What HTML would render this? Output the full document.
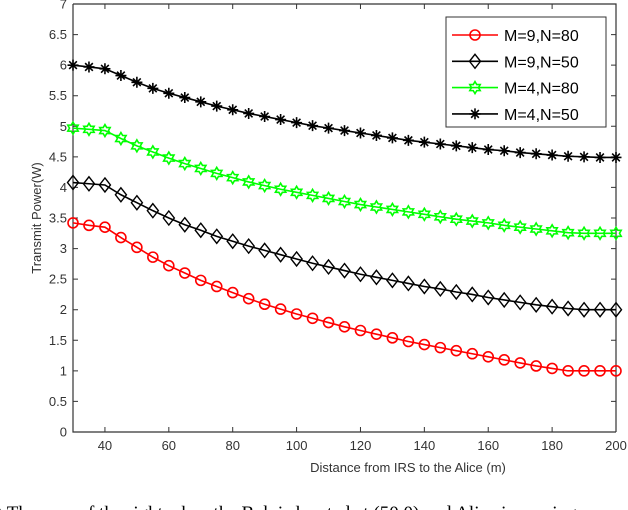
<!DOCTYPE html>
<html><head><meta charset="utf-8"><style>
body{margin:0;background:#fff;width:628px;height:510px;overflow:hidden}
svg{display:block;font-family:"Liberation Sans",sans-serif}
</style></head><body>
<svg id="chart" width="628" height="510" viewBox="0 0 628 510" xmlns="http://www.w3.org/2000/svg">
<rect x="73" y="4" width="543" height="428" fill="#fff" stroke="none"/>
<g id="grid"></g>
<g id="series"></g>
<g id="legend"></g>
<text x="408" y="472" font-size="13" fill="#333" text-anchor="middle">Distance from IRS to the Alice (m)</text>
<text transform="translate(41,218) rotate(-90)" font-size="13" fill="#333" text-anchor="middle">Transmit Power(W)</text>
<text x="-4" y="519" font-size="19" font-family="Liberation Serif,serif" fill="#000">) The case of the right when the Bob is located at (50,0) and Alice is moving</text>
</svg>
<script>
const xValues=[30,35,40,45,50,55,60,65,70,75,80,85,90,95,100,105,110,115,120,125,130,135,140,145,150,155,160,165,170,175,180,185,190,195,200];
const seriesM9N80=[3.42,3.38,3.35,3.18,3.02,2.86,2.72,2.6,2.48,2.38,2.28,2.18,2.09,2.01,1.93,1.86,1.79,1.72,1.66,1.6,1.54,1.48,1.43,1.38,1.33,1.28,1.23,1.18,1.13,1.08,1.04,1.0,1.0,1.0,1.0];
const seriesM9N50=[4.08,4.06,4.04,3.88,3.75,3.62,3.5,3.39,3.3,3.2,3.12,3.04,2.97,2.9,2.83,2.76,2.7,2.64,2.58,2.53,2.48,2.43,2.38,2.34,2.29,2.25,2.2,2.16,2.12,2.08,2.05,2.02,2.0,2.0,2.0];
const seriesM4N80=[4.97,4.95,4.93,4.8,4.68,4.58,4.48,4.39,4.31,4.23,4.16,4.09,4.03,3.97,3.92,3.87,3.82,3.77,3.72,3.68,3.64,3.6,3.56,3.52,3.48,3.45,3.42,3.38,3.35,3.32,3.29,3.26,3.25,3.25,3.25];
const seriesM4N50=[6.0,5.97,5.94,5.83,5.72,5.62,5.54,5.47,5.4,5.33,5.27,5.21,5.16,5.11,5.06,5.01,4.97,4.93,4.89,4.85,4.81,4.77,4.74,4.71,4.68,4.65,4.62,4.6,4.57,4.55,4.53,4.51,4.5,4.49,4.49];
const seriesNames=["M=9,N=80","M=9,N=50","M=4,N=80","M=4,N=50"];
const xTicks=[40,60,80,100,120,140,160,180,200];
const yTicks=[0,0.5,1,1.5,2,2.5,3,3.5,4,4.5,5,5.5,6,6.5,7];
const X0=73,X1=616,Y0=432,Y1=4;
const xs=v=>X0+(v-30)/(200-30)*(X1-X0);
const ys=v=>Y0-(v-0)/(7-0)*(Y0-Y1);
const NS="http://www.w3.org/2000/svg";
function mk(tag,attrs,parent){const e=document.createElementNS(NS,tag);for(const k in attrs)e.setAttribute(k,attrs[k]);parent.appendChild(e);return e;}
const grid=document.getElementById('grid');
const ser=document.getElementById('series');
const leg=document.getElementById('legend');
let ax=mk('path',{d:`M${X0},${Y1}V${Y0}H${X1}`,fill:'none',stroke:'#333','stroke-width':1.2},grid);


let ax2=mk('path',{d:`M${X0},${Y1}H${X1}V${Y0}`,fill:'none',stroke:'#333','stroke-width':1.2},grid);


xTicks.forEach(t=>{const x=xs(t);
 mk('path',{d:`M${x},${Y0}v-5M${x},${Y1}v5`,stroke:'#333'},grid);
 const tx=mk('text',{x:x,y:Y0+18,'font-size':13,'text-anchor':'middle',fill:'#333'},grid);tx.textContent=t;
 
 });
yTicks.forEach(t=>{const y=ys(t);
 mk('path',{d:`M${X0},${y}h5M${X1},${y}h-5`,stroke:'#333'},grid);
 const tx=mk('text',{x:X0-6,y:y+4.5,'font-size':13,'text-anchor':'end',fill:'#333'},grid);tx.textContent=t;
 
 });
function marker(type,x,y,color,g){
 if(type==='circle')return mk('circle',{cx:x,cy:y,r:5,fill:'none',stroke:color,'stroke-width':1.6},g);
 if(type==='diamond')return mk('path',{d:`M${x},${y-7}L${x+5.5},${y}L${x},${y+7}L${x-5.5},${y}Z`,fill:'none',stroke:color,'stroke-width':1.4},g);
 if(type==='hexagram'){const r=6,r2=3.5;let d='';for(let i=0;i<12;i++){const a=-Math.PI/2+i*Math.PI/6;const rr=i%2?r2:r;d+=(i?'L':'M')+(x+rr*Math.cos(a))+','+(y+rr*Math.sin(a));}return mk('path',{d:d+'Z',fill:'none',stroke:color,'stroke-width':1.6},g);}
 if(type==='asterisk'){const r=5.5;return mk('path',{d:`M${x-r},${y}h${2*r}M${x},${y-r}v${2*r}M${x-r*0.7},${y-r*0.7}l${1.4*r},${1.4*r}M${x-r*0.7},${y+r*0.7}l${1.4*r},${-1.4*r}`,stroke:color,'stroke-width':1.6},g);}
}
const allSeries=[[seriesM9N80,'#ff0000','circle','series-m9-n80'],[seriesM9N50,'#000','diamond','series-m9-n50'],[seriesM4N80,'#00ff00','hexagram','series-m4-n80'],[seriesM4N50,'#000','asterisk','series-m4-n50']];
allSeries.forEach(([vals,col,mt,name])=>{
 const g=mk('g',{},ser);
 
 
 const pl=mk('polyline',{points:vals.map((v,i)=>xs(xValues[i])+','+ys(v)).join(' '),fill:'none',stroke:col,'stroke-width':1.6},g);
 
 
 vals.forEach((v,i)=>{const m=marker(mt,xs(xValues[i]),ys(v),col,g);
  
  });
});
const lb=mk('rect',{x:446,y:17,width:160,height:110,fill:'#fff',stroke:'#333','stroke-width':1},leg);


allSeries.forEach(([vals,col,mt,name],i)=>{
 const y=35+i*26.3;
 const g=mk('g',{},leg);
 
 
 mk('path',{d:`M452,${y}H498`,stroke:col,'stroke-width':1.6},g);
 marker(mt,475,y,col,g);
 const t=mk('text',{x:504,y:y+6,'font-size':16,fill:'#000'},g);t.textContent=seriesNames[i];
});
</script>
</body></html>
